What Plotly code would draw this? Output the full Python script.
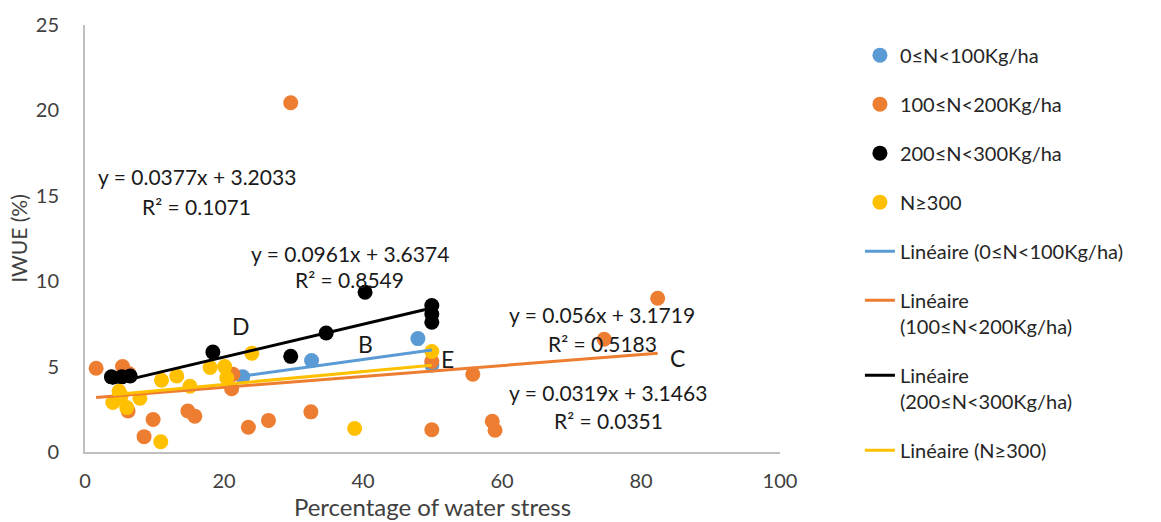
import numpy as np
import plotly.graph_objects as go

# ---------------- data ----------------
blue_x = [22.7, 32.6, 47.9, 49.9]
blue_y = [4.4, 5.35, 6.64, 5.1]

orange_x = [1.6, 5.4, 6.3, 6.2, 9.8, 8.5, 14.8, 15.8, 21.3, 21.1, 23.5, 26.4, 29.6,
            32.5, 49.9, 49.9, 55.8, 58.6, 59.0, 74.7, 82.4]
orange_y = [4.9, 5.0, 4.6, 2.4, 1.9, 0.9, 2.4, 2.1, 4.55, 3.7, 1.45, 1.85, 20.45,
            2.35, 1.3, 5.3, 4.55, 1.8, 1.27, 6.6, 9.0]

black_x = [3.8, 5.3, 6.5, 18.4, 29.6, 34.7, 40.3, 49.9, 49.9, 49.9]
black_y = [4.4, 4.4, 4.45, 5.85, 5.6, 6.97, 9.35, 8.58, 8.08, 7.6]

yellow_x = [4.0, 4.9, 5.2, 6.0, 7.9, 11.0, 13.2, 15.1, 18.0, 20.1, 20.4, 24.0,
            10.9, 38.8, 49.9]
yellow_y = [2.9, 3.55, 3.3, 2.6, 3.15, 4.2, 4.45, 3.85, 4.95, 5.0, 4.35, 5.78,
            0.6, 1.38, 5.88]

series_names = ["0≤N<100Kg/ha", "100≤N<200Kg/ha", "200≤N<300Kg/ha", "N≥300"]
trend_names = ["Linéaire (0≤N<100Kg/ha)", "Linéaire<br>(100≤N<200Kg/ha)",
               "Linéaire<br>(200≤N<300Kg/ha)", "Linéaire (N≥300)"]
colors = ["#5B9BD5", "#ED7D31", "#000000", "#FFC000"]

# trendline coefficients (slope, intercept, R²)
slopes = [0.056, 0.0319, 0.0961, 0.0377]
intercepts = [3.1719, 3.1463, 3.6374, 3.2033]
r2 = ["0.5183", "0.0351", "0.8549", "0.1071"]
eq_texts = ["y = 0.056x + 3.1719", "y = 0.0319x + 3.1463",
            "y = 0.0961x + 3.6374", "y = 0.0377x + 3.2033"]
eq_pos = [(74.4, 8.06, 6.36), (75.3, 3.47, 1.84), (38.1, 11.64, 10.1), (16.1, 16.15, 14.4)]
letters = ["B", "C", "D", "E"]
letter_pos = [(40.3, 6.34), (85.2, 5.49), (22.4, 7.37), (52.2, 5.47)]

xs = [blue_x, orange_x, black_x, yellow_x]
ys = [blue_y, orange_y, black_y, yellow_y]

FONT = "Lato"
fig = go.Figure()

for i in range(4):
    fig.add_trace(go.Scatter(x=xs[i], y=ys[i], mode="markers", name=series_names[i],
                             marker=dict(color=colors[i], size=15),
                             legendgroup=str(i)))
for i in range(4):
    x0, x1 = min(xs[i]), max(xs[i])
    lx = [x0, x1]
    ly = [slopes[i] * v + intercepts[i] for v in lx]
    fig.add_trace(go.Scatter(x=lx, y=ly, mode="lines", name=trend_names[i],
                             line=dict(color=colors[i], width=3),
                             legendgroup=str(i + 4)))

ann = []
for i in range(4):
    ex, ey, ry = eq_pos[i]
    ann.append(dict(x=ex, y=ey, xref="x", yref="y", text=eq_texts[i], showarrow=False,
                    font=dict(family=FONT, size=21, color="#1a1a1a")))
    ann.append(dict(x=ex, y=ry, xref="x", yref="y", text="R² = " + r2[i], showarrow=False,
                    font=dict(family=FONT, size=21, color="#1a1a1a")))
for i in range(4):
    ann.append(dict(x=letter_pos[i][0], y=letter_pos[i][1], xref="x", yref="y",
                    text=letters[i], showarrow=False,
                    font=dict(family=FONT, size=23, color="#1a1a1a")))

fig.update_layout(
    width=1161, height=522,
    margin=dict(l=85, r=381, t=18, b=70),
    paper_bgcolor="white", plot_bgcolor="white",
    font=dict(family=FONT, size=20, color="#404040"),
    annotations=ann,
    legend=dict(x=1.115, y=0.975, xanchor="left", yanchor="top",
                tracegroupgap=20, valign="top", maxheight=520,
                font=dict(family=FONT, size=20, color="#262626")),
    xaxis=dict(range=[0, 100], dtick=20, showgrid=False, zeroline=False,
               showline=True, linecolor="#BFBFBF", linewidth=2,
               ticks="", ticklabelstandoff=10,
               tickfont=dict(size=20, color="#404040"),
               title=dict(text="Percentage of water stress", standoff=0,
                          font=dict(size=24, color="#404040"))),
    yaxis=dict(range=[0, 25], dtick=5, showgrid=False, zeroline=False,
               showline=True, linecolor="#BFBFBF", linewidth=2,
               ticks="", ticklabelstandoff=20,
               tickfont=dict(size=20, color="#404040"),
               title=dict(text="IWUE (%)", standoff=2,
                          font=dict(size=21, color="#404040"))),
)

fig.write_html("out.html")
